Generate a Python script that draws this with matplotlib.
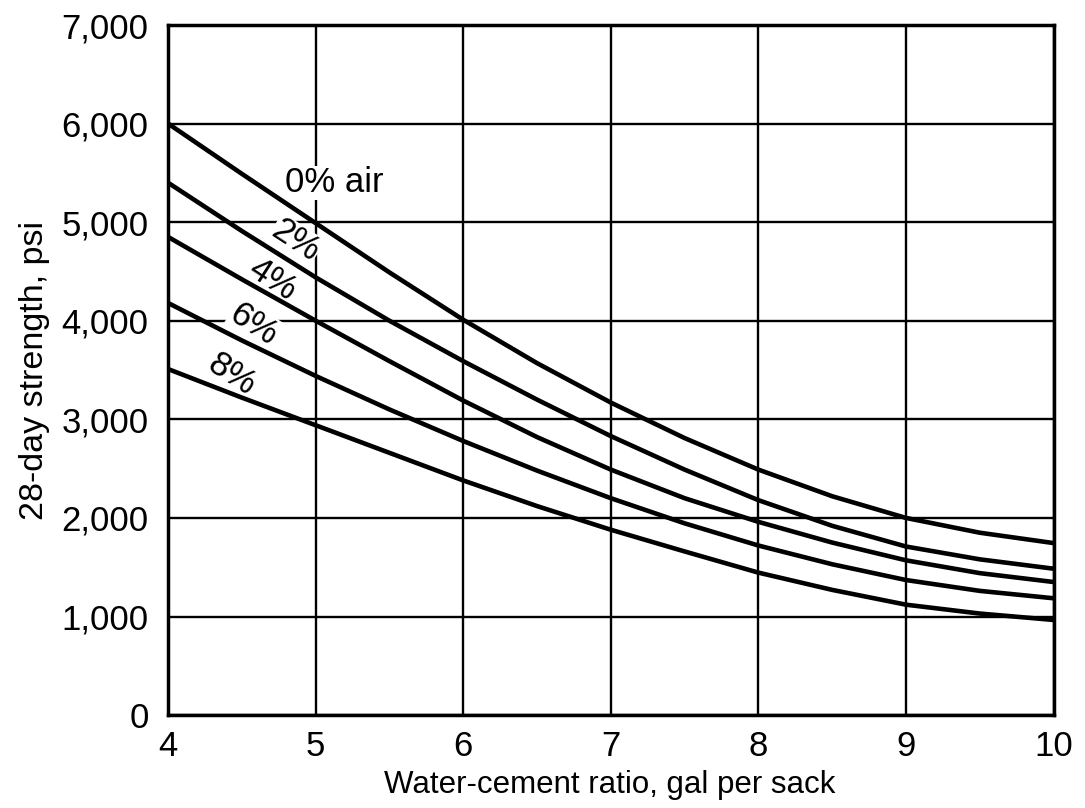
import numpy as np
import matplotlib
matplotlib.use("Agg")
import matplotlib.pyplot as plt

# water-cement ratio, gal per sack
ratio = [4.0, 4.5, 5.0, 5.5, 6.0, 6.5, 7.0, 7.5, 8.0, 8.5, 9.0, 9.5, 10.0]

# 28-day strength (psi), one list per air content
air0 = [6000, 5490, 4990, 4490, 4010, 3570, 3170, 2810, 2490, 2220, 2000, 1850, 1745]
air2 = [5400, 4910, 4440, 4000, 3590, 3200, 2830, 2490, 2180, 1920, 1710, 1580, 1485]
air4 = [4850, 4420, 4000, 3590, 3190, 2820, 2490, 2200, 1960, 1750, 1570, 1440, 1350]
air6 = [4180, 3800, 3440, 3100, 2780, 2480, 2200, 1945, 1720, 1530, 1370, 1260, 1185]
air8 = [3510, 3220, 2940, 2660, 2380, 2120, 1880, 1660, 1445, 1270, 1120, 1030, 965]

curve_labels = ["0% air", "2%", "4%", "6%", "8%"]
label_pos = [(4.79, 5400), (4.86, 4810), (4.71, 4420), (4.58, 3965), (4.43, 3450)]
label_rot = [0, -33, -33, -33, -33]
label_ha = ['left', 'center', 'center', 'center', 'center']

xticks = [4, 5, 6, 7, 8, 9, 10]
yticks = [0, 1000, 2000, 3000, 4000, 5000, 6000, 7000]

plt.rcParams['font.family'] = ['Liberation Sans', 'DejaVu Sans']

fig = plt.figure(figsize=(10.85, 8.08), dpi=100)
ax = fig.add_axes([0.155, 0.115, 0.816, 0.854])

for s in [air0, air2, air4, air6, air8]:
    ax.plot(ratio, s, color='black', lw=3.3, solid_capstyle='butt', zorder=3)

# labels sit under the curves but hide the grid behind them
for txt, (x, y), r, ha in zip(curve_labels, label_pos, label_rot, label_ha):
    ax.text(x, y, txt, fontsize=25, rotation=r, ha=ha, va='center',
            rotation_mode='anchor', zorder=2.5,
            bbox=dict(facecolor='white', edgecolor='none', pad=0.5))

ax.set_xlim(4, 10)
ax.set_ylim(0, 7000)
ax.set_xticks(xticks)
ax.set_yticks(yticks)
ax.set_xticklabels([str(t) for t in xticks])
ax.set_yticklabels([f"{t:,}" for t in yticks])
ax.tick_params(length=0, labelsize=25)
ax.tick_params(axis='y', pad=14)
ax.tick_params(axis='x', pad=11)
ax.grid(True, color='black', lw=1.7)
ax.set_axisbelow(True)
for sp in ax.spines.values():
    sp.set_linewidth(2.5)
    sp.set_zorder(4)

ax.set_xlabel("Water-cement ratio, gal per sack", fontsize=22.5)
ax.set_ylabel("28-day strength, psi", fontsize=24.5)
ax.xaxis.set_label_coords(0.499, -0.080)
ax.yaxis.set_label_coords(-0.133, 0.5)

fig.savefig("out.png", dpi=100)
